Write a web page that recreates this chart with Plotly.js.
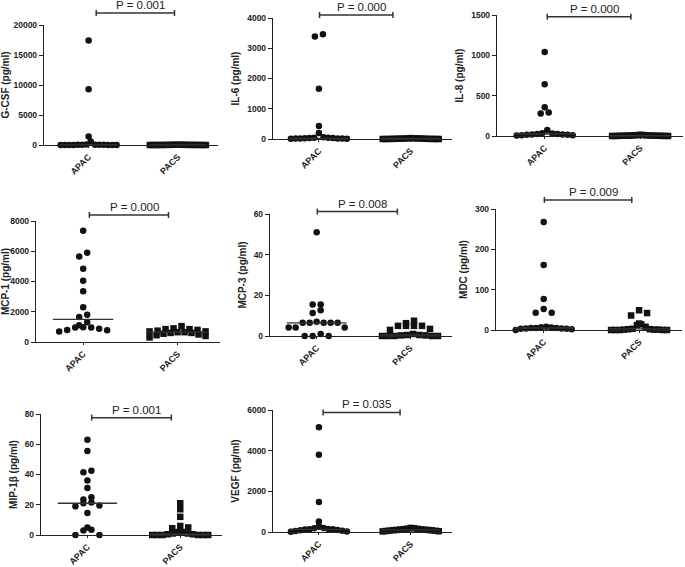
<!DOCTYPE html>
<html><head><meta charset="utf-8">
<script src="https://cdn.plot.ly/plotly-3.0.1.min.js"></script>
<style>html,body{margin:0;padding:0;background:#fff}#chart{width:685px;height:567px}</style>
</head><body><div id="chart"></div>
<script>
// ---- data ----
const categories = ['APAC', 'PACS'];
const yTitles = ['G-CSF (pg/ml)', 'IL-6 (pg/ml)', 'IL-8 (pg/ml)', 'MCP-1 (pg/ml)', 'MCP-3 (pg/ml)', 'MDC (pg/ml)', 'MIP-1β (pg/ml)', 'VEGF (pg/ml)'];
const pValues = ['P = 0.001', 'P = 0.000', 'P = 0.000', 'P = 0.000', 'P = 0.008', 'P = 0.009', 'P = 0.001', 'P = 0.035'];
const yMax = [20000, 4000, 1500, 8000, 60, 300, 80, 6000];
const yStep = [5000, 1000, 500, 2000, 20, 100, 20, 2000];

const gcsfAPAC = [17400, 9300, 1400, 600, 80, 60, 50, 40, 30, 30, 20, 20, 10, 10, 5, 0, 0];
const gcsfPACS = [60, 50, 40, 30, 30, 20, 20, 15, 10, 10, 5, 5, 0, 0, 0, 0, 0];
const gcsfMedian = [30, 15];

const il6APAC = [3460, 3390, 1660, 430, 200, 60, 40, 30, 25, 20, 20, 15, 15, 10, 10, 40, 30];
const il6PACS = [30, 25, 20, 20, 15, 15, 10, 10, 8, 5, 5, 3, 2, 0, 0, 0, 0];
const il6Median = [20, 8];

const il8APAC = [1040, 640, 355, 290, 280, 75, 35, 30, 25, 25, 20, 20, 15, 15, 10, 10, 5];
const il8PACS = [15, 12, 10, 8, 8, 6, 5, 5, 4, 3, 3, 2, 2, 1, 0, 0, 0];
const il8Median = [25, 4];

const mcp1APAC = [7350, 5900, 5650, 4850, 4050, 3350, 2300, 1800, 1650, 1300, 1100, 980, 960, 960, 870, 800, 780, 700];
const mcp1PACS = [1050, 900, 850, 850, 800, 750, 700, 700, 650, 650, 600, 600, 550, 500, 450, 400, 300];
const mcp1Median = [1500, 650];

const mcp3APAC = [51, 15.5, 15.5, 12.7, 11.3, 7, 6.5, 6.5, 6.5, 6.5, 6.5, 4.2, 4.2, 4.2, 1, 0, 0, 0];
const mcp3PACS = [7.5, 6.3, 5, 5, 5, 5, 3.5, 3, 1, 0.5, 0.5, 0.3, 0.3, 0, 0, 0, 0, 0];
const mcp3Median = [6.5, 0.5];

const mdcAPAC = [268, 161, 77, 52, 43, 43, 8, 7, 6, 5, 5, 5, 4, 4, 3, 3, 2, 0];
const mdcPACS = [49, 42, 36, 16, 14, 12, 8, 3, 2, 2, 1, 1, 1, 0, 0, 0, 0, 0];
const mdcMedian = [5, 3];

const mip1bAPAC = [63, 55.5, 42.5, 41.5, 36, 31, 25, 23.5, 21.5, 21, 19.5, 19, 14.5, 5, 3, 3.5, 0, 0];
const mip1bPACS = [21, 17, 12, 6, 5, 4.5, 2, 2, 1, 1, 0.5, 0.5, 0, 0, 0, 0, 0, 0];
const mip1bMedian = [21, 0.5];

const vegfAPAC = [5150, 3800, 1480, 520, 300, 200, 180, 150, 140, 130, 120, 100, 80, 60, 50, 20, 10];
const vegfPACS = [200, 180, 160, 150, 140, 130, 120, 110, 100, 100, 90, 80, 70, 60, 50, 40, 30];
const vegfMedian = [130, 100];

// ---- layout geometry (pixels) ----
const W = 685, H = 567;
const boxes = [[44,218,25,145],[273,452,18,139],[497,683,15,136],[36,220,221,342],[270,452,214,336],[496,682,209,330],[41,222,414,535],[273,452,410,532]];
const brackets = [[0.30,0.75,1.10],[0.26,0.67,1.025],[0.27,0.72,0.985],[0.29,0.72,1.05],[0.26,0.70,1.02],[0.26,0.73,1.075],[0.28,0.72,0.97],[0.28,0.71,0.98]];
const XR = [-0.5, 1.45];

const groups = [
  [gcsfAPAC, gcsfPACS, gcsfMedian], [il6APAC, il6PACS, il6Median], [il8APAC, il8PACS, il8Median],
  [mcp1APAC, mcp1PACS, mcp1Median], [mcp3APAC, mcp3PACS, mcp3Median], [mdcAPAC, mdcPACS, mdcMedian],
  [mip1bAPAC, mip1bPACS, mip1bMedian], [vegfAPAC, vegfPACS, vegfMedian]
];

// horizontal spreading of points that share a row (column-scatter layout)
function swarm(vals, center, ymax, hpx, wpx) {
  const pxY = hpx / ymax, pxX = wpx / (XR[1] - XR[0]);
  const idx = vals.map((v, i) => i).sort((a, b) => vals[a] - vals[b]);
  const rows = []; let cur = null;
  idx.forEach(i => {
    if (!cur || (vals[i] - cur.base) * pxY > 6) { cur = {base: vals[i], items: []}; rows.push(cur); }
    cur.items.push(i);
  });
  const xs = new Array(vals.length);
  rows.forEach(r => {
    const n = r.items.length;
    const step = Math.min(8, 56 / Math.max(n - 1, 1)) / pxX;
    // alternate ends so that a row stays level
    const slots = [];
    let lo = 0, hi = n - 1;
    while (lo <= hi) { slots.push(lo++); if (lo <= hi) slots.push(hi--); }
    r.items.forEach((k, j) => { xs[k] = center + (slots[j] - (n - 1) / 2) * step; });
  });
  return xs;
}

const FONT = 'Liberation Sans, Arial, sans-serif';
const traces = [];
const layout = {
  width: W, height: H, margin: {l: 0, r: 0, t: 0, b: 0},
  paper_bgcolor: '#fff', plot_bgcolor: 'rgba(0,0,0,0)', showlegend: false,
  font: {family: FONT, color: '#222'},
  shapes: [], annotations: []
};

groups.forEach((g, p) => {
  const i = p + 1, sfx = i === 1 ? '' : String(i);
  const [x0, x1, yt, yb] = boxes[p];
  const wpx = x1 - x0, hpx = yb - yt;
  layout['xaxis' + sfx] = {
    domain: [x0 / W, x1 / W], range: XR, anchor: 'y' + sfx,
    tickmode: 'array', tickvals: [0, 1], ticktext: categories, tickangle: -45,
    showline: true, linecolor: '#222', linewidth: 1.2, ticks: 'outside', ticklen: 2, tickcolor: '#222',
    showgrid: false, zeroline: false, fixedrange: true,
    tickfont: {family: FONT, size: 9, weight: 'bold', color: '#222'}
  };
  layout['yaxis' + sfx] = {
    domain: [1 - yb / H, 1 - yt / H], range: [0, yMax[p]], dtick: yStep[p], tickformat: 'd', anchor: 'x' + sfx,
    showline: true, linecolor: '#222', linewidth: 1.2, ticks: 'outside', ticklen: 4, tickcolor: '#222',
    showgrid: false, zeroline: false, fixedrange: true,
    tickfont: {family: FONT, size: 8.5, weight: 'bold', color: '#222'},
    title: {text: yTitles[p], standoff: 5, font: {family: FONT, size: 10, weight: 'bold', color: '#222'}}
  };
  [0, 1].forEach(c => {
    const vals = g[c];
    traces.push({
      type: 'scatter', mode: 'markers', xaxis: 'x' + sfx, yaxis: 'y' + sfx,
      x: swarm(vals, c, yMax[p], hpx, wpx), y: vals, cliponaxis: false,
      marker: {symbol: c === 0 ? 'circle' : 'square', size: 6.5, color: '#111', line: {width: 0}},
      hoverinfo: 'y'
    });
    traces.push({
      type: 'scatter', mode: 'lines', xaxis: 'x' + sfx, yaxis: 'y' + sfx,
      x: [c - 0.32, c + 0.32], y: [g[2][c], g[2][c]], cliponaxis: false,
      line: {color: '#333', width: 1.3}, hoverinfo: 'skip'
    });
  });
  const [b0, b1, by] = brackets[p];
  const xr = 'x' + sfx + ' domain', yr = 'y' + sfx + ' domain';
  const cap = 3 / hpx;
  const ln = {color: '#333', width: 1.5};
  layout.shapes.push({type: 'line', xref: xr, yref: yr, x0: b0, x1: b1, y0: by, y1: by, line: ln});
  layout.shapes.push({type: 'line', xref: xr, yref: yr, x0: b0, x1: b0, y0: by - cap, y1: by + cap, line: ln});
  layout.shapes.push({type: 'line', xref: xr, yref: yr, x0: b1, x1: b1, y0: by - cap, y1: by + cap, line: ln});
  layout.annotations.push({
    xref: xr, yref: yr, x: (b0 + b1) / 2 + 0.03, y: by, yanchor: 'bottom', yshift: 0,
    text: pValues[p], showarrow: false, font: {family: FONT, size: 11.5, color: '#222'}
  });
});

Plotly.newPlot('chart', traces, layout, {displayModeBar: false, staticPlot: true});
</script>
</body></html>
